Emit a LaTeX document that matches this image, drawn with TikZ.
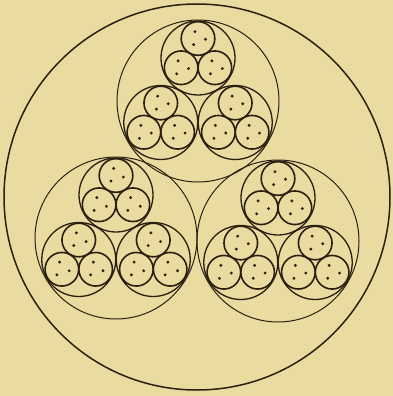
\documentclass[tikz,border=0pt]{standalone}
\definecolor{paper}{RGB}{234,219,160}
\definecolor{ink}{RGB}{42,32,16}
\begin{document}
\begin{tikzpicture}[x=1pt,y=-1pt,
  outerring/.style={draw=ink,line width=1.5pt},
  ringA/.style={draw=ink,line width=1pt},
  ringB/.style={draw=ink,line width=1.3pt},
  ringC/.style={draw=ink,line width=1.6pt},
  dotmark/.style={fill=ink}]
\fill[paper] (0,0) rectangle (393,396);
\useasboundingbox (0,0) rectangle (393,396);
\draw[outerring] (197,197) circle[radius=193];
\foreach \ax/\ay in {198/101, 116/238, 278/241} {
  \draw[ringA] (\ax,\ay) circle[radius=81];
  \foreach \b in {90,210,330} {
    \pgfmathsetmacro\bx{\ax+43*cos(\b)}
    \pgfmathsetmacro\by{\ay-43*sin(\b)}
    \draw[ringB] (\bx,\by) circle[radius=37];
    \foreach \c in {90,210,330} {
      \pgfmathsetmacro\cx{\bx+19.5*cos(\c)}
      \pgfmathsetmacro\cy{\by-19.5*sin(\c)}
      \draw[ringC] (\cx,\cy) circle[radius=16.8];
      \pgfmathsetmacro\rot{mod(\ax*3+\b*7+\c*11,60)-30}
      \foreach \d in {90,210,330} {
        \fill[dotmark] ({\cx+7.5*cos(\d+\rot)},{\cy-7.5*sin(\d+\rot)}) circle[radius=1.6];
      }
    }
  }
}
\end{tikzpicture}
\end{document}
